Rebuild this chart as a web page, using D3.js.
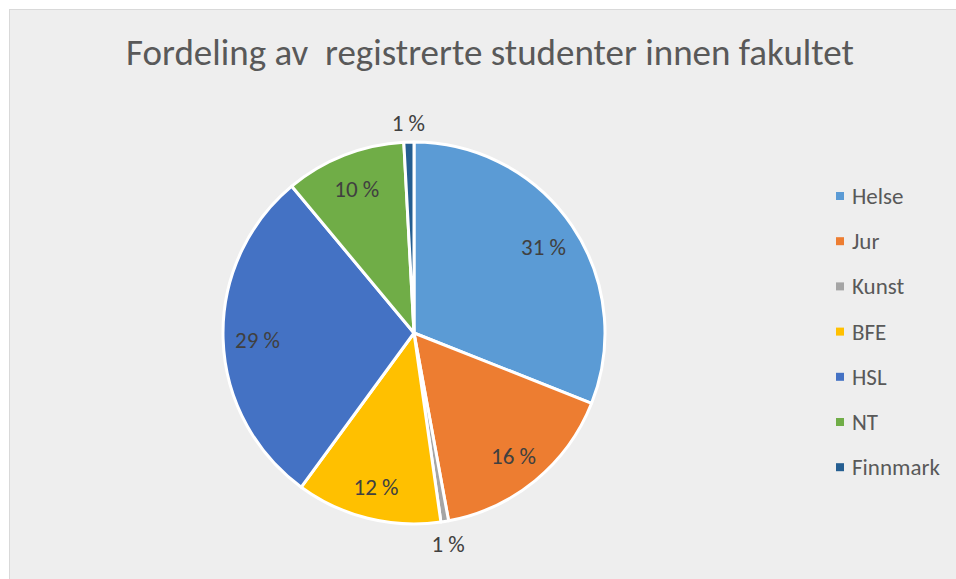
<!DOCTYPE html>
<html>
<head>
<meta charset="utf-8">
<script src="https://cdn.jsdelivr.net/npm/d3@7"></script>
<style>
  body { margin: 0; background: #fff; }
  text { font-family: Calibri, Carlito, Lato, sans-serif; }
</style>
</head>
<body>
<div id="chart"></div>
<script>
const title = "Fordeling av  registrerte studenter innen fakultet"
const categories = ["Helse", "Jur", "Kunst", "BFE", "HSL", "NT", "Finnmark"]
const shares = [31.0, 16.1, 0.65, 12.3, 28.9, 10.2, 0.85]
const colors = ["#5B9BD5", "#ED7D31", "#A5A5A5", "#FFC000", "#4472C4", "#70AD47", "#255E91"]

const width = 956
const height = 579
const cx = 414, cy = 333, radius = 191

const svg = d3.select("#chart").append("svg")
    .attr("width", width)
    .attr("height", height)

// chart area
svg.append("rect")
    .attr("x", 9.5).attr("y", 9.5)
    .attr("width", width).attr("height", height)
    .attr("fill", "#eeeeee")
    .attr("stroke", "#d9d9d9")

svg.append("text")
    .attr("x", 490).attr("y", 65)
    .attr("text-anchor", "middle")
    .attr("font-size", 37)
    .attr("fill", "#595959")
    .style("white-space", "pre")
    .text(title)

const data = categories.map((c, i) => ({ name: c, value: shares[i], color: colors[i] }))
const total = d3.sum(shares)

const pie = d3.pie().value(d => d.value).sort(null)
const arc = d3.arc().innerRadius(0).outerRadius(radius)
const arcs = pie(data)

const g = svg.append("g").attr("transform", `translate(${cx},${cy})`)

g.selectAll("path").data(arcs).join("path")
    .attr("d", arc)
    .attr("fill", d => d.data.color)
    .attr("stroke", "#ffffff")
    .attr("stroke-width", 3)
    .attr("stroke-linejoin", "round")

// labels: inside for big slices, outside for the tiny ones
g.selectAll("text.lbl").data(arcs).join("text")
    .attr("class", "lbl")
    .attr("transform", d => {
        const a = (d.startAngle + d.endAngle) / 2
        const r = d.data.value < 3 ? radius + 21 : radius * 0.82
        return `translate(${Math.sin(a) * r},${-Math.cos(a) * r})`
    })
    .attr("text-anchor", "middle")
    .attr("dy", "0.42em")
    .attr("font-size", 23)
    .attr("fill", "#404040")
    .text(d => Math.round(d.data.value / total * 100) + " %")

// legend
const legend = svg.append("g").attr("transform", "translate(836,196)")
const rows = legend.selectAll("g").data(data).join("g")
    .attr("transform", (d, i) => `translate(0,${i * 45.2})`)
rows.append("rect")
    .attr("x", 0).attr("y", -4)
    .attr("width", 8).attr("height", 8)
    .attr("fill", d => d.color)
rows.append("text")
    .attr("x", 16).attr("dy", "0.35em")
    .attr("font-size", 23)
    .attr("fill", "#595959")
    .text(d => d.name)
</script>
</body>
</html>
